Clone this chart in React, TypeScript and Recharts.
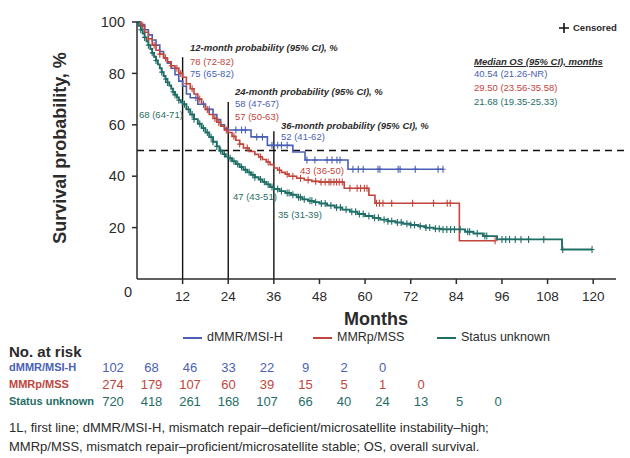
import React from 'react';
import { ComposedChart, Line, Scatter, XAxis, YAxis, ReferenceLine } from 'recharts';

// Kaplan-Meier steps: time (months) and survival (%) from that time on
const blueTimes = [0, 1, 2, 3, 4, 5, 6, 7, 8, 9, 10, 11, 12, 13, 14, 16, 18, 20, 21, 22, 23, 24, 30, 34.3, 41, 44.2, 55.5, 80.5];
const blueSurv = [100, 99, 97, 95, 93, 91, 88.5, 86, 84, 82, 79.5, 77, 75, 72, 70.5, 68, 66, 64, 62, 60, 58.5, 58, 55.3, 52, 49.4, 46.3, 42.7, 42.7];
const blueCensor = [15.5, 17.5, 19, 26, 27.5, 28.5, 31.5, 33, 35.5, 37, 38, 39.5, 44.7, 46.8, 50, 51.3, 52.6, 53.4, 56.8, 58.2, 59.5, 63.4, 63.9, 68.7, 69.2, 73.2, 79.2, 80.5];

const redTimes = [0, 1, 2, 3, 4, 5, 6, 7, 8, 9, 10, 11, 12, 13, 14, 15, 16, 17, 18, 19, 20, 21, 22, 23, 24, 25, 26, 27, 28, 29.5, 31, 32, 33, 34, 35, 36, 37, 38, 39, 40, 42, 44, 46, 48, 54.5, 61, 62.6, 84.8, 94.2];
const redSurv = [100, 98.5, 96, 93.5, 91, 89, 87.5, 86, 84.5, 83, 82, 80, 78.5, 76, 74, 72, 70, 68, 66, 64, 62.5, 61, 59.5, 58, 57, 55.5, 54, 52.5, 51, 49.6, 48.5, 47.5, 46.5, 45.5, 44.5, 43.2, 42.3, 41.5, 40.8, 40, 39.2, 38.5, 38, 37.7, 35.3, 32.6, 29.5, 14.9, 14.9];
const redCensor = [1.5, 3, 4.5, 6, 7.5, 9, 10.5, 11.5, 13, 14.5, 16.5, 18.5, 20.5, 21.5, 23.5, 25.5, 27, 29, 32.5, 34.5, 37.5, 39.5, 41, 43, 45, 47, 48.4, 49.5, 50.5, 51, 51.8, 52.5, 53.2, 54, 56, 57.9, 58.8, 59.8, 60.5, 63, 63.8, 64.7, 67, 72.5, 78, 81.6, 82.4, 94.2];

const tealTimes = [0, 0.5, 1, 1.5, 2, 2.5, 3, 3.5, 4, 4.5, 5, 5.5, 6, 6.5, 7, 7.5, 8, 8.5, 9, 9.5, 10, 10.5, 11, 11.5, 12, 13, 14, 15, 16, 17, 18, 19, 20, 21, 21.7, 22.5, 23.3, 24, 25, 26, 27, 28, 29, 30, 31, 32, 33, 34, 35, 36, 37.5, 39, 40.5, 42, 43.5, 45, 46.5, 48, 50, 52, 54, 56, 58, 60, 62, 64, 66, 68, 70, 72, 74, 76, 78, 80, 86.3, 88.5, 91, 94.7, 111.8, 119.7];
const tealSurv = [100, 98.5, 97, 95.5, 94, 92.5, 91, 89.5, 88, 86.5, 85, 83.5, 82, 80.5, 79, 77.8, 76.5, 75.3, 74, 72.8, 71.7, 70.6, 69.6, 68.8, 68, 66, 64, 62.2, 60.4, 58.7, 57, 55.2, 53.4, 51.6, 49.9, 48.6, 47.6, 47, 45.8, 44.7, 43.6, 42.5, 41.5, 40.5, 39.6, 38.7, 37.8, 36.8, 35.8, 35, 34.2, 33.5, 32.8, 31.8, 31, 30.4, 29.9, 29.4, 28.6, 27.8, 27, 26.2, 25.3, 24.5, 23.8, 23.1, 22.5, 22, 21.5, 21, 20.5, 20, 19.6, 19.3, 18.4, 17.7, 16.7, 15.4, 11.5, 11.5];
const tealCensor = [1, 2, 3, 4, 5, 6.5, 7.5, 8, 9.5, 10, 11, 12.5, 13.5, 14.5, 15, 16.5, 17.5, 18.5, 19.5, 20, 21, 22, 23, 24.5, 25.5, 26.5, 27.5, 28.5, 29.5, 30.5, 31, 32.5, 33.5, 34.5, 35.5, 37, 38, 39.5, 40, 41, 42.5, 43, 44, 45.5, 46, 47, 48.5, 49.5, 51, 52.5, 53.5, 55, 56.5, 57.5, 58.5, 59.5, 61, 62.5, 63.5, 65, 66, 67, 68.5, 69.5, 71, 72, 73, 74.5, 76, 77, 78.5, 79.5, 80.5, 81.5, 82.5, 83.5, 85, 87, 87.5, 89.5, 91.5, 92, 96, 97, 98, 99.5, 101, 103, 107, 112, 119.7];

const monthTicks = [12, 24, 36, 48, 60, 72, 84, 96, 108, 120];
const pctTicks = [20, 40, 60, 80, 100];
const landmarkMonths = [12, 24, 36];
const landmarkTops = [86.3, 68.9, 57.5];

const riskLabels = ['dMMR/MSI-H', 'MMRp/MSS', 'Status unknown'];
const riskBlue = [102, 68, 46, 33, 22, 9, 2, 0];
const riskRed = [274, 179, 107, 60, 39, 15, 5, 1, 0];
const riskTeal = [720, 418, 261, 168, 107, 66, 40, 24, 13, 5, 0];

const BLUE = '#4a5fb5';
const RED = '#c2453c';
const TEAL = '#1f6e66';
const INK = '#2b2b2b';
const FONT = '"Liberation Sans", Arial, Helvetica, sans-serif';

const toSteps = (times: number[], surv: number[]) => times.map((t, i) => ({ t, s: surv[i] }));

const censorPoints = (times: number[], surv: number[], cens: number[]) =>
  cens.map(c => {
    let s = surv[0];
    times.forEach((t, i) => {
      if (t <= c) s = surv[i];
    });
    return { t: c, s };
  });

const crossShape = (color: string) => (props: any) => {
  const { cx, cy } = props;
  return (
    <path
      d={`M${cx - 2.5},${cy}H${cx + 2.5}M${cx},${cy - 3.5}V${cy + 3.5}`}
      stroke={color}
      strokeWidth={1.1}
      fill="none"
    />
  );
};

type TxtProps = {
  x: number;
  y: number;
  size?: number;
  color?: string;
  bold?: boolean;
  italic?: boolean;
  underline?: boolean;
  anchor?: 'start' | 'middle' | 'end';
  children: React.ReactNode;
};

const Txt = ({ x, y, size = 9.5, color = INK, bold, italic, underline, anchor = 'start', children }: TxtProps) => (
  <div
    style={{
      position: 'absolute',
      left: x,
      top: y - size * 0.49,
      fontSize: size,
      lineHeight: 1,
      color,
      fontWeight: bold ? 700 : 400,
      fontStyle: italic ? 'italic' : 'normal',
      textDecoration: underline ? 'underline' : 'none',
      whiteSpace: 'nowrap',
      transform: anchor === 'middle' ? 'translateX(-50%)' : anchor === 'end' ? 'translateX(-100%)' : undefined,
    }}
  >
    {children}
  </div>
);

export default function App() {
  const blueData = toSteps(blueTimes, blueSurv);
  const redData = toSteps(redTimes, redSurv);
  const tealData = toSteps(tealTimes, tealSurv);

  const series = [
    { name: 'dMMR/MSI-H', data: blueData, cens: censorPoints(blueTimes, blueSurv, blueCensor), color: BLUE, w: 1.6 },
    { name: 'MMRp/MSS', data: redData, cens: censorPoints(redTimes, redSurv, redCensor), color: RED, w: 1.6 },
    { name: 'Status unknown', data: tealData, cens: censorPoints(tealTimes, tealSurv, tealCensor), color: TEAL, w: 1.9 },
  ];

  const riskRows = [riskBlue, riskRed, riskTeal];
  const riskColors = [BLUE, RED, TEAL];

  return (
    <div style={{ position: 'absolute', left: 0, top: 0, width: 630, height: 458, background: '#fff', fontFamily: FONT, color: INK }}>
      <ComposedChart width={630} height={310} margin={{ top: 22, right: 14, bottom: 1, left: 97 }}>
        <XAxis
          type="number"
          dataKey="t"
          domain={[0, 126]}
          ticks={monthTicks}
          allowDataOverflow
          tickSize={5}
          tickMargin={7}
          height={30}
          stroke={INK}
          strokeWidth={1.5}
          tick={{ fill: INK, fontSize: 13.5, fontFamily: FONT }}
        />
        <YAxis
          type="number"
          dataKey="s"
          domain={[0, 100]}
          ticks={pctTicks}
          width={40}
          tickSize={5}
          tickMargin={7}
          stroke={INK}
          strokeWidth={1.5}
          tick={{ fill: INK, fontSize: 14.5, fontFamily: FONT }}
        />
        <ReferenceLine
          segment={[{ x: 0, y: 50 }, { x: 129.2, y: 50 }]}
          ifOverflow="visible"
          stroke="#111"
          strokeWidth={1.6}
          strokeDasharray="7 5"
        />
        {landmarkMonths.map((m, i) => (
          <ReferenceLine
            key={m}
            segment={[{ x: m, y: 0 }, { x: m, y: landmarkTops[i] }]}
            stroke="#111"
            strokeWidth={1.4}
          />
        ))}
        {series.map(s => (
          <Line
            key={s.name}
            data={s.data}
            dataKey="s"
            type="stepAfter"
            stroke={s.color}
            strokeWidth={s.w}
            dot={false}
            activeDot={false}
            isAnimationActive={false}
          />
        ))}
        {series.map(s => (
          <Scatter
            key={s.name + '-c'}
            data={s.cens}
            dataKey="s"
            shape={crossShape(s.color)}
            isAnimationActive={false}
          />
        ))}
      </ComposedChart>

      {/* axis titles */}
      <Txt x={132} y={292} size={14.5} anchor="end">0</Txt>
      <div
        style={{
          position: 'absolute',
          left: 60,
          top: 148,
          transform: 'translate(-50%, -50%) rotate(-90deg)',
          fontSize: 18,
          fontWeight: 700,
          whiteSpace: 'nowrap',
          lineHeight: 1,
        }}
      >
        Survival probability, %
      </div>
      <Txt x={376} y={319} size={18} bold anchor="middle">Months</Txt>

      {/* landmark annotations */}
      <Txt x={190} y={48} bold italic>12-month probability (95% CI), %</Txt>
      <Txt x={190} y={61.5} color={RED}>78 (72-82)</Txt>
      <Txt x={190} y={74} color={BLUE}>75 (65-82)</Txt>
      <Txt x={235} y={91.5} bold italic>24-month probability (95% CI), %</Txt>
      <Txt x={235} y={104} color={BLUE}>58 (47-67)</Txt>
      <Txt x={235} y={117} color={RED}>57 (50-63)</Txt>
      <Txt x={281} y={126} bold italic>36-month probability (95% CI), %</Txt>
      <Txt x={281} y={137} color={BLUE}>52 (41-62)</Txt>
      <Txt x={139} y={115} color={TEAL}>68 (64-71)</Txt>
      <Txt x={233} y={197} color={TEAL}>47 (43-51)</Txt>
      <Txt x={278} y={215} color={TEAL}>35 (31-39)</Txt>
      <Txt x={300} y={171} color={RED}>43 (36-50)</Txt>

      {/* median OS box */}
      <Txt x={474} y={61.5} bold italic underline>Median OS (95% CI), months</Txt>
      <Txt x={474} y={74} color={BLUE}>40.54 (21.26-NR)</Txt>
      <Txt x={474} y={88} color={RED}>29.50 (23.56-35.58)</Txt>
      <Txt x={474} y={101.5} color={TEAL}>21.68 (19.35-25.33)</Txt>

      {/* censored key */}
      <svg style={{ position: 'absolute', left: 558, top: 22 }} width={12} height={12}>
        <path d="M1,6H11M6,1V11" stroke="#111" strokeWidth={1.6} />
      </svg>
      <Txt x={573} y={27.5} bold>Censored</Txt>

      {/* series legend */}
      {series.map((s, i) => {
        const lx = [183, 313, 437][i];
        return (
          <React.Fragment key={s.name}>
            <div style={{ position: 'absolute', left: lx, top: 337, width: 19, height: 1.5, background: s.color }} />
            <Txt x={lx + 24} y={337.5} size={12.5}>{s.name}</Txt>
          </React.Fragment>
        );
      })}

      {/* number at risk table */}
      <Txt x={9} y={351} size={15} bold>No. at risk</Txt>
      {riskLabels.map((label, r) => (
        <React.Fragment key={label}>
          <Txt x={9} y={367.5 + r * 16.8} size={11} bold color={riskColors[r]}>{label}</Txt>
          {riskRows[r].map((n, c) => (
            <Txt key={c} x={113 + c * 38.5} y={367.5 + r * 16.8} size={13} anchor="middle" color={riskColors[r]}>
              {n}
            </Txt>
          ))}
        </React.Fragment>
      ))}

      {/* footnote */}
      <Txt x={9} y={427} size={13}>
        1L, first line; dMMR/MSI-H, mismatch repair–deficient/microsatellite instability–high;
      </Txt>
      <Txt x={9} y={446} size={13}>
        MMRp/MSS, mismatch repair–proficient/microsatellite stable; OS, overall survival.
      </Txt>
    </div>
  );
}
